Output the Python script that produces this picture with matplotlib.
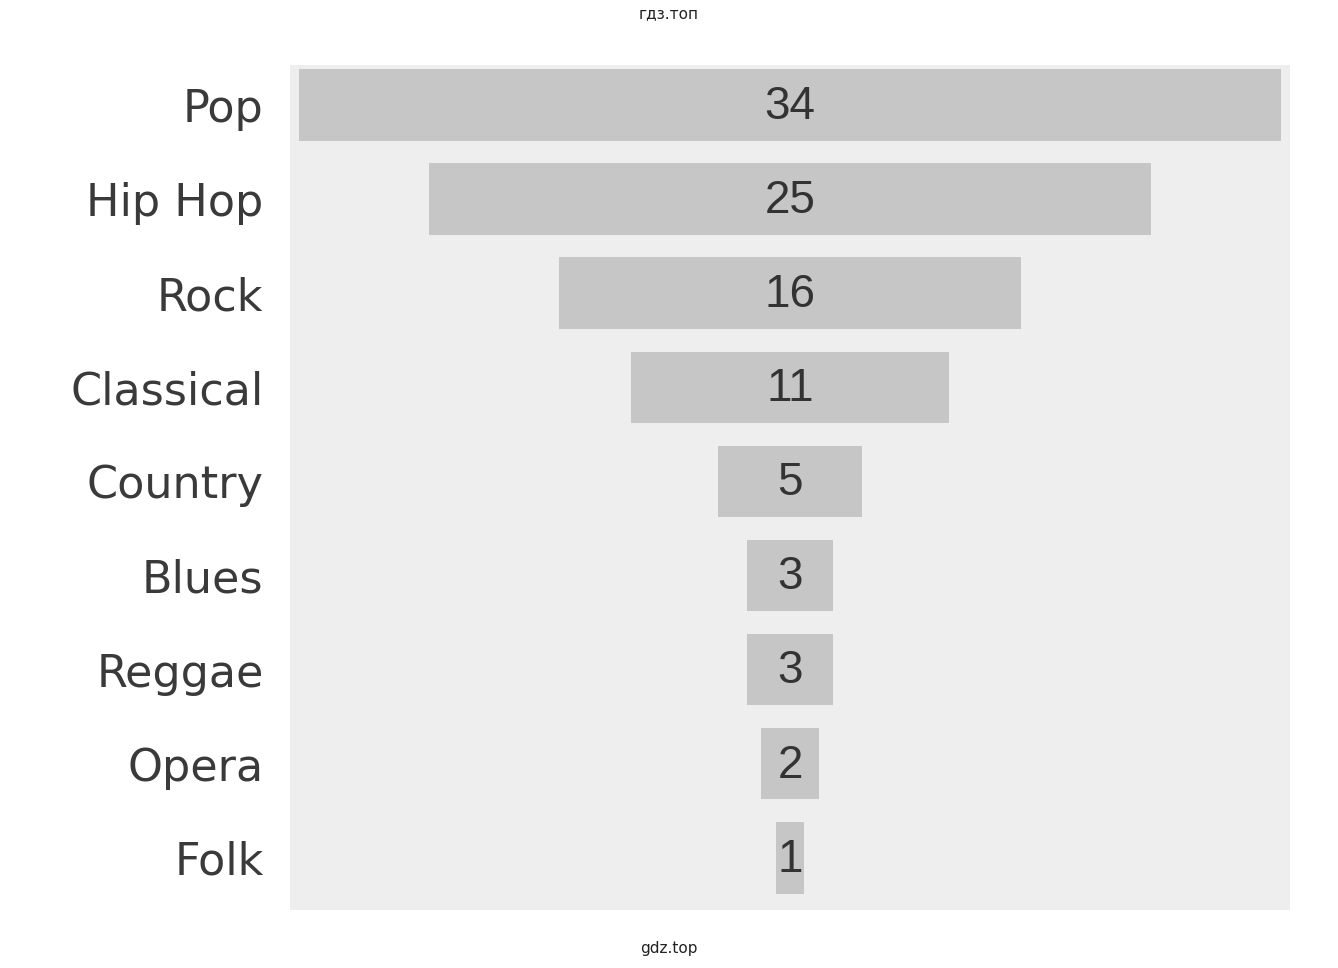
import matplotlib
matplotlib.use("Agg")
from matplotlib import pyplot as plt

genres = ["Pop", "Hip Hop", "Rock", "Classical", "Country", "Blues", "Reggae", "Opera", "Folk"]
votes = [34, 25, 16, 11, 5, 3, 3, 2, 1]

fig = plt.figure(figsize=(13.38, 9.68), dpi=100)
fig.patch.set_facecolor("white")

ax = fig.add_axes([290 / 1338, 58 / 968, 1000 / 1338, 845 / 968])
ax.set_facecolor("#eeeeee")

ypos = list(range(len(genres)))
lefts = [-v / 2 for v in votes]
ax.barh(ypos, votes, left=lefts, height=0.76, color="#c6c6c6", edgecolor="none")

for y, v in zip(ypos, votes):
    ax.text(0, y + 0.02, str(v), ha="center", va="center", fontsize=33,
            color="#333333", family="Liberation Sans")

ax.set_xlim(-17.3, 17.3)
ax.set_ylim(8.555, -0.425)
ax.set_yticks(ypos)
ax.set_yticklabels(genres, fontsize=32, color="#3a3a3a")
ax.tick_params(axis="y", length=0, pad=19)
ax.set_xticks([])
for s in ax.spines.values():
    s.set_visible(False)

fig.text(0.5, 1 - 14 / 968, "гдз.топ", ha="center", va="center", fontsize=11, color="#222222")
fig.text(0.5, 1 - 948 / 968, "gdz.top", ha="center", va="center", fontsize=11, color="#222222")

fig.savefig("out.png", dpi=100)
